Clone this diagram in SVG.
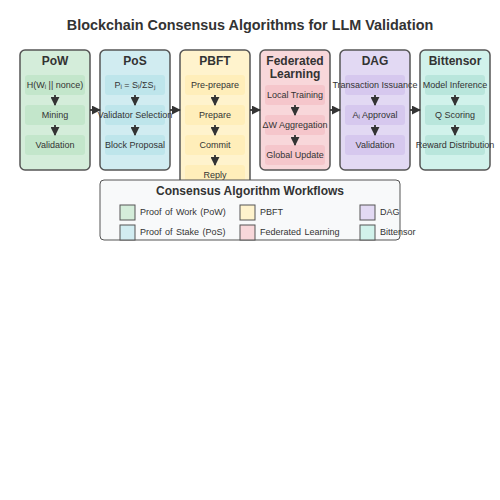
<svg xmlns="http://www.w3.org/2000/svg" width="500" height="500" viewBox="0 0 500 500">
<style>
text{font-family:"Liberation Sans",Arial,sans-serif;}
.title{font-size:14.4px;font-weight:bold;fill:#333;text-anchor:middle;}
.ct{font-size:12px;font-weight:bold;fill:#333;text-anchor:middle;}
.st{font-size:9px;fill:#333;text-anchor:middle;}
.col{stroke:#555;stroke-width:1.5;}
.step{stroke:none;}
.arr{stroke:#333;stroke-width:1.8;fill:none;marker-end:url(#ah);}
.lt{font-size:9px;fill:#333;word-spacing:1px;}
.sw{stroke:#555;stroke-width:1;}
</style>
<defs>
<marker id="ah" viewBox="0 0 10 10" refX="9" refY="5" markerWidth="5" markerHeight="5" orient="auto">
<path d="M0,0 L10,5 L0,10 z" fill="#333"/>
</marker>
</defs>
<rect width="500" height="500" fill="#fff"/>
<text class="title" x="250" y="30">Blockchain Consensus Algorithms for LLM Validation</text>

<g id="pow">
<rect class="col" x="20" y="50" width="70" height="120" rx="5" fill="#d4edda"/>
<text class="ct" x="55" y="65">PoW</text>
<rect class="step" x="25" y="75" width="60" height="20" rx="3" fill="#c3e6cb"/>
<text class="st" x="55" y="88">H(Wᵢ || nonce)</text>
<rect class="step" x="25" y="105" width="60" height="20" rx="3" fill="#c3e6cb"/>
<text class="st" x="55" y="118">Mining</text>
<rect class="step" x="25" y="135" width="60" height="20" rx="3" fill="#c3e6cb"/>
<text class="st" x="55" y="148">Validation</text>
</g>

<g id="pos">
<rect class="col" x="100" y="50" width="70" height="120" rx="5" fill="#d1ecf1"/>
<text class="ct" x="135" y="65">PoS</text>
<rect class="step" x="105" y="75" width="60" height="20" rx="3" fill="#bee5eb"/>
<text class="st" x="135" y="88">Pᵢ = Sᵢ/ΣSⱼ</text>
<rect class="step" x="105" y="105" width="60" height="20" rx="3" fill="#bee5eb"/>
<text class="st" x="135" y="118">Validator Selection</text>
<rect class="step" x="105" y="135" width="60" height="20" rx="3" fill="#bee5eb"/>
<text class="st" x="135" y="148">Block Proposal</text>
</g>

<g id="pbft">
<rect class="col" x="180" y="50" width="70" height="140" rx="5" fill="#fff3cd"/>
<text class="ct" x="215" y="65">PBFT</text>
<rect class="step" x="185" y="75" width="60" height="20" rx="3" fill="#ffeeba"/>
<text class="st" x="215" y="88">Pre-prepare</text>
<rect class="step" x="185" y="105" width="60" height="20" rx="3" fill="#ffeeba"/>
<text class="st" x="215" y="118">Prepare</text>
<rect class="step" x="185" y="135" width="60" height="20" rx="3" fill="#ffeeba"/>
<text class="st" x="215" y="148">Commit</text>
<rect class="step" x="185" y="165" width="60" height="20" rx="3" fill="#ffeeba"/>
<text class="st" x="215" y="178">Reply</text>
</g>

<g id="federated">
<rect class="col" x="260" y="50" width="70" height="120" rx="5" fill="#f8d7da"/>
<text class="ct" x="295" y="65">Federated</text>
<text class="ct" x="295" y="77.5">Learning</text>
<rect class="step" x="265" y="85" width="60" height="20" rx="3" fill="#f5c6cb"/>
<text class="st" x="295" y="98">Local Training</text>
<rect class="step" x="265" y="115" width="60" height="20" rx="3" fill="#f5c6cb"/>
<text class="st" x="295" y="128">ΔW Aggregation</text>
<rect class="step" x="265" y="145" width="60" height="20" rx="3" fill="#f5c6cb"/>
<text class="st" x="295" y="158">Global Update</text>
</g>

<g id="dag">
<rect class="col" x="340" y="50" width="70" height="120" rx="5" fill="#e2d9f3"/>
<text class="ct" x="375" y="65">DAG</text>
<rect class="step" x="345" y="75" width="60" height="20" rx="3" fill="#d6c8ee"/>
<text class="st" x="375" y="88">Transaction Issuance</text>
<rect class="step" x="345" y="105" width="60" height="20" rx="3" fill="#d6c8ee"/>
<text class="st" x="375" y="118">Aᵢ Approval</text>
<rect class="step" x="345" y="135" width="60" height="20" rx="3" fill="#d6c8ee"/>
<text class="st" x="375" y="148">Validation</text>
</g>

<g id="bittensor">
<rect class="col" x="420" y="50" width="70" height="120" rx="5" fill="#d1f2eb"/>
<text class="ct" x="455" y="65">Bittensor</text>
<rect class="step" x="425" y="75" width="60" height="20" rx="3" fill="#b9e6dc"/>
<text class="st" x="455" y="88">Model Inference</text>
<rect class="step" x="425" y="105" width="60" height="20" rx="3" fill="#b9e6dc"/>
<text class="st" x="455" y="118">Q Scoring</text>
<rect class="step" x="425" y="135" width="60" height="20" rx="3" fill="#b9e6dc"/>
<text class="st" x="455" y="148">Reward Distribution</text>
</g>

<g id="connectors">
<line class="arr" x1="55" y1="95" x2="55" y2="105"/>
<line class="arr" x1="55" y1="125" x2="55" y2="135"/>
<line class="arr" x1="135" y1="95" x2="135" y2="105"/>
<line class="arr" x1="135" y1="125" x2="135" y2="135"/>
<line class="arr" x1="215" y1="95" x2="215" y2="105"/>
<line class="arr" x1="215" y1="125" x2="215" y2="135"/>
<line class="arr" x1="215" y1="155" x2="215" y2="165"/>
<line class="arr" x1="295" y1="105" x2="295" y2="115"/>
<line class="arr" x1="295" y1="135" x2="295" y2="145"/>
<line class="arr" x1="375" y1="95" x2="375" y2="105"/>
<line class="arr" x1="375" y1="125" x2="375" y2="135"/>
<line class="arr" x1="455" y1="95" x2="455" y2="105"/>
<line class="arr" x1="455" y1="125" x2="455" y2="135"/>
<line class="arr" x1="90" y1="110" x2="100" y2="110"/>
<line class="arr" x1="170" y1="110" x2="180" y2="110"/>
<line class="arr" x1="250" y1="110" x2="260" y2="110"/>
<line class="arr" x1="330" y1="110" x2="340" y2="110"/>
<line class="arr" x1="410" y1="110" x2="420" y2="110"/>
</g>

<g id="legend">
<rect x="100" y="180" width="300" height="60" rx="4" fill="#f8f9fa" stroke="#555" stroke-width="1"/>
<text class="ct" x="250" y="195">Consensus Algorithm Workflows</text>
<rect class="sw" x="120" y="205" width="15" height="15" fill="#d4edda"/>
<text class="lt" x="140" y="215">Proof of Work (PoW)</text>
<rect class="sw" x="120" y="225" width="15" height="15" fill="#d1ecf1"/>
<text class="lt" x="140" y="235">Proof of Stake (PoS)</text>
<rect class="sw" x="240" y="205" width="15" height="15" fill="#fff3cd"/>
<text class="lt" x="260" y="215">PBFT</text>
<rect class="sw" x="240" y="225" width="15" height="15" fill="#f8d7da"/>
<text class="lt" x="260" y="235">Federated Learning</text>
<rect class="sw" x="360" y="205" width="15" height="15" fill="#e2d9f3"/>
<text class="lt" x="380" y="215">DAG</text>
<rect class="sw" x="360" y="225" width="15" height="15" fill="#d1f2eb"/>
<text class="lt" x="380" y="235">Bittensor</text>
</g>
</svg>
